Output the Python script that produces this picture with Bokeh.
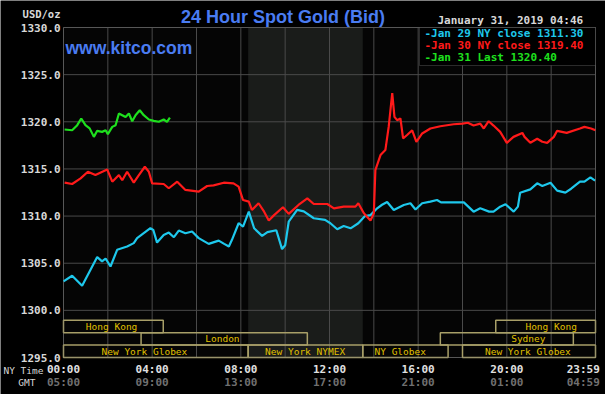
from bokeh.plotting import figure
from bokeh.models import Range1d, Label, BoxAnnotation, ColumnDataSource
from bokeh.core.properties import value
from bokeh.embed import file_html
from bokeh.resources import INLINE

# ---------------- data (hours in NY time, USD/oz) ----------------
jan29_h = [0.0, 0.39, 0.84, 1.52, 1.74, 1.9, 2.12, 2.42, 2.87, 3.17, 3.32, 3.92, 4.05, 4.22, 4.52,
           4.75, 4.98, 5.2, 5.5, 5.8, 6.1, 6.55, 7.0, 7.25, 7.46, 7.6, 7.9, 8.1, 8.36, 8.6, 8.96,
           9.2, 9.6, 9.86, 10.0, 10.16, 10.54, 10.84, 11.29, 11.8, 12.04, 12.35, 12.64, 12.95,
           13.3, 13.6, 13.85, 14.15, 14.37, 14.6, 14.9, 15.35, 15.65, 15.88, 16.18, 16.55, 16.85,
           17.03, 18.06, 18.5, 18.8, 19.2, 19.4, 19.7, 19.94, 20.31, 20.5, 20.6, 21.06, 21.37,
           21.6, 21.97, 22.27, 22.64, 22.9, 23.3, 23.5, 23.77, 23.98]
jan29_v = [1303.07, 1303.67, 1302.6, 1305.65, 1305.19, 1305.5, 1304.65, 1306.42, 1306.77, 1307.13,
           1307.66, 1308.71, 1308.53, 1307.19, 1308.0, 1308.25, 1307.76, 1308.46, 1308.18, 1308.36,
           1307.66, 1307.05, 1307.4, 1307.05, 1306.77, 1307.48, 1309.24, 1308.88, 1310.47, 1308.71,
           1307.9, 1308.3, 1308.5, 1306.5, 1306.9, 1309.4, 1310.65, 1310.5, 1309.77, 1309.6,
           1309.24, 1308.6, 1308.95, 1308.7, 1309.24, 1310.0, 1310.1, 1310.82, 1311.2, 1311.5,
           1310.65, 1311.18, 1311.36, 1310.7, 1311.36, 1311.53, 1311.7, 1311.45, 1311.45, 1310.47,
           1310.82, 1310.47, 1310.47, 1311.0, 1311.25, 1310.47, 1311.0, 1312.48, 1312.83, 1313.47,
           1313.2, 1313.54, 1312.7, 1312.48, 1312.9, 1313.65, 1313.65, 1314.1, 1313.76]

jan30_h = [0.05, 0.39, 0.77, 1.1, 1.44, 1.97, 2.2, 2.5, 2.65, 2.87, 3.17, 3.4, 3.67, 3.85, 4.0,
           4.52, 4.75, 5.13, 5.5, 6.1, 6.48, 6.77, 7.23, 7.67, 7.9, 8.1, 8.36, 8.5, 8.8, 9.05,
           9.26, 9.5, 9.9, 10.16, 10.6, 11.0, 11.29, 11.9, 12.2, 12.64, 13.17, 13.3, 13.55, 13.85,
           14.0, 14.07, 14.3, 14.52, 14.67, 14.83, 14.93, 15.05, 15.2, 15.32, 15.5, 15.73, 15.92,
           16.18, 16.55, 17.0, 17.6, 18.0, 18.24, 18.5, 18.8, 18.96, 19.18, 19.4, 19.7, 20.0,
           20.3, 20.7, 20.8, 21.06, 21.37, 21.6, 21.82, 22.12, 22.27, 22.7, 23.3, 23.5, 23.8, 24.0]
jan30_v = [1313.54, 1313.4, 1314.0, 1314.7, 1314.35, 1314.95, 1313.65, 1314.35, 1313.8, 1314.7,
           1313.54, 1314.35, 1315.23, 1314.7, 1313.47, 1313.4, 1312.95, 1313.65, 1312.77, 1312.59,
           1313.19, 1313.25, 1313.54, 1313.47, 1313.12, 1311.7, 1311.53, 1310.65, 1311.36, 1310.47,
           1309.52, 1310.1, 1310.94, 1310.23, 1311.18, 1311.88, 1311.28, 1311.28, 1310.82, 1311.0,
           1311.0, 1311.36, 1310.3, 1309.52, 1310.3, 1314.88, 1316.47, 1317.0, 1319.46, 1323.05,
           1320.52, 1320.17, 1320.35, 1318.23, 1318.6, 1319.1, 1317.88, 1318.76, 1319.29, 1319.53,
           1319.74, 1319.8, 1319.9, 1319.6, 1319.8, 1319.29, 1320.06, 1319.6, 1318.93, 1317.77,
           1318.4, 1318.82, 1318.4, 1317.77, 1318.2, 1317.88, 1317.77, 1318.4, 1319.04, 1318.82,
           1319.29, 1319.46, 1319.29, 1319.1]

jan31_h = [0.05, 0.39, 0.62, 0.8, 0.99, 1.18, 1.37, 1.52, 1.74, 1.9, 2.0, 2.2, 2.35, 2.5, 2.65,
           2.8, 2.95, 3.1, 3.25, 3.44, 3.62, 3.85, 4.07, 4.3, 4.52, 4.67, 4.8]
jan31_v = [1319.18, 1319.1, 1319.64, 1320.35, 1319.64, 1319.3, 1318.4, 1319.04, 1318.93, 1319.1,
           1318.69, 1319.46, 1319.64, 1320.88, 1320.7, 1320.5, 1320.88, 1320.06, 1320.7, 1321.22,
           1320.7, 1320.24, 1320.1, 1320.0, 1320.24, 1320.0, 1320.45]

legend_texts = ["-Jan 29 NY close 1311.30", "-Jan 30 NY close 1319.40", "-Jan 31 Last 1320.40"]

# market sessions (hours NY time); row 0 = bottom row
session_names = ["Hong Kong", "London", "New York Globex", "New York NYMEX", "NY Globex",
                 "New York Globex", "Sydney", "Hong Kong"]
session_start = [0.0, 3.5, 0.0, 8.33, 13.5, 18.0, 17.0, 19.5]
session_end = [4.5, 11.0, 8.33, 13.5, 17.35, 24.0, 23.0, 24.0]
session_row = [2, 1, 0, 0, 0, 0, 1, 2]
session_label_x = [2.17, 7.17, 3.65, 10.9, 15.19, 20.95, 20.97, 22.0]

nymex_start, nymex_end = 8.33, 13.5

y_ticks = [1295, 1300, 1305, 1310, 1315, 1320, 1325, 1330]
y_tick_labels = ["1295.0", "1300.0", "1305.0", "1310.0", "1315.0", "1320.0", "1325.0", "1330.0"]
grid_hours = [0, 2, 4, 6, 8, 10, 12, 14, 16, 18, 20, 22, 24]
x_tick_pos = [0.0, 4.0, 8.0, 12.0, 16.0, 20.0, 23.45]
ny_labels = ["00:00", "04:00", "08:00", "12:00", "16:00", "20:00", "23:59"]
gmt_labels = ["05:00", "09:00", "13:00", "17:00", "21:00", "01:00", "04:59"]

# ---------------- layout (pixels) ----------------
W, H = 605, 394
PL, PR, PT, PB = 63, 595, 27, 357          # plot area box in canvas pixels
x_lo, x_hi = grid_hours[0], grid_hours[-1]
y_lo, y_hi = y_ticks[0], y_ticks[-1]
sx = (PR - PL) / (x_hi - x_lo)
sy = (PB - PT) / (y_hi - y_lo)
ROW_PX = 12.4                               # session row height in px

BLUE = "#4a7cf2"
CYAN = "#1ec8ec"
RED = "#ff1a1a"
GREEN = "#1ee01e"
MONO = "DejaVu Sans Mono"
LIGHT = "#d8d8d8"

p = figure(width=W, height=H, output_backend="svg", toolbar_location=None,
           x_axis_type=None, y_axis_type=None,
           x_range=Range1d(x_lo - PL / sx, x_hi + (W - PR) / sx),
           y_range=Range1d(y_lo - (H - PB) / sy, y_hi + PT / sy),
           min_border=0)
p.background_fill_color = "#000000"
p.border_fill_color = "#000000"
p.outline_line_color = None
p.extra_y_ranges = {"sess": Range1d(-(H - PB) / ROW_PX, PB / ROW_PX)}

# plot area background and NYMEX shading
p.add_layout(BoxAnnotation(left=x_lo, right=x_hi, bottom=y_lo, top=y_hi,
                           fill_color="#050505", fill_alpha=1, line_color=None, level="image"))
p.add_layout(BoxAnnotation(left=nymex_start, right=nymex_end, bottom=y_lo, top=y_hi,
                           fill_color="#1a1c1a", fill_alpha=1, line_color=None, level="image"))

# grid
p.segment(x0=grid_hours, x1=grid_hours, y0=[y_lo] * len(grid_hours), y1=[y_hi] * len(grid_hours),
          line_color="#4a4a4a", line_width=1)
p.segment(x0=[x_lo] * len(y_ticks), x1=[x_hi] * len(y_ticks), y0=y_ticks, y1=y_ticks,
          line_color="#4a4a4a", line_width=1)

# tick labels
p.text(x=[x_lo] * len(y_ticks), y=y_ticks, text=y_tick_labels, x_offset=-3,
       text_font=value(MONO), text_font_style="bold", text_font_size="11px",
       text_color=LIGHT, text_align="right", text_baseline="middle")
p.text(x=x_tick_pos, y=[y_lo] * len(x_tick_pos), text=ny_labels, y_offset=11.7,
       text_font=value(MONO), text_font_style="bold", text_font_size="11px",
       text_color="#e0e0e0", text_align="center", text_baseline="middle")
p.text(x=x_tick_pos, y=[y_lo] * len(x_tick_pos), text=gmt_labels, y_offset=24.5,
       text_font=value(MONO), text_font_style="bold", text_font_size="11px",
       text_color="#707070", text_align="center", text_baseline="middle")

# market sessions
sess = ColumnDataSource(dict(
    name=session_names, start=session_start, end=session_end,
    bottom=session_row, top=[r + 1 for r in session_row],
    mid=[r + 0.5 for r in session_row], lx=session_label_x))
p.quad(left="start", right="end", bottom="bottom", top="top", source=sess,
       fill_alpha=0, line_color="#a89f68", line_width=1.5, y_range_name="sess")
p.text(x="lx", y="mid", text="name", source=sess, y_range_name="sess",
       text_font=value(MONO), text_font_size="9.5px", text_color="#e0c000",
       text_align="center", text_baseline="middle")

# price lines
p.line(jan29_h, jan29_v, line_color=CYAN, line_width=2.2)
p.line(jan30_h, jan30_v, line_color=RED, line_width=2.2)
p.line(jan31_h, jan31_v, line_color=GREEN, line_width=2.2)

# plot outline
p.add_layout(BoxAnnotation(left=x_lo, right=x_hi, bottom=y_lo, top=y_hi, fill_alpha=0,
                           line_color="#777777", line_width=1, level="annotation"))


def lab(x, y, text, color, size, align="left", font=MONO, style="bold"):
    # x from left edge, y from top edge of canvas (converted to bokeh screen units)
    p.add_layout(Label(x=x, y=H - y, x_units="screen", y_units="screen", text=text,
                       text_color=color, text_font=font, text_font_style=style,
                       text_font_size=size, text_align=align, text_baseline="middle"))


# legend box + entries
p.add_layout(BoxAnnotation(left=419, right=PR, top=H - PT, bottom=H - 65,
                           left_units="screen", right_units="screen", top_units="screen",
                           bottom_units="screen", fill_color="#000000", fill_alpha=1,
                           line_color="#8a8a8a", line_width=1, level="annotation"))
for txt, col, yy in zip(legend_texts, [CYAN, RED, GREEN], [33, 44.5, 57]):
    lab(424, yy, txt, col, "11px")

lab(282.5, 16, "24 Hour Spot Gold (Bid)", BLUE, "18px", align="center", font="Liberation Sans")
lab(65, 47.5, "www.kitco.com", BLUE, "17.5px", font="Liberation Sans")
lab(437, 19.5, "January 31, 2019 04:46", LIGHT, "11px")
lab(60, 13.3, "USD/oz", LIGHT, "10.5px", align="right")
lab(43, 370, "NY Time", LIGHT, "9.5px", align="right", style="normal")
lab(35, 381.7, "GMT", LIGHT, "9.5px", align="right", style="normal")

open("out.html", "w").write(file_html(p, INLINE, title="24 Hour Spot Gold"))
